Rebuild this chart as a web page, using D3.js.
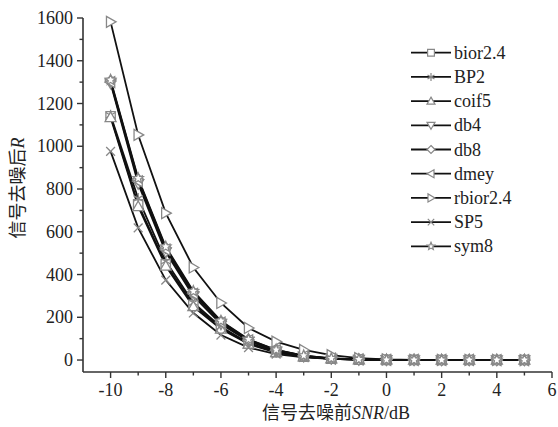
<!DOCTYPE html>
<html><head><meta charset="utf-8">
<script src="https://cdn.jsdelivr.net/npm/d3@7"></script>
<style>body{margin:0;background:#fff}</style>
</head><body>
<svg id="c" width="558" height="427"></svg>
<script>
const snr = [-10,-9,-8,-7,-6,-5,-4,-3,-2,-1,0,1,2,3,4,5];
const seriesNames = ["bior2.4","BP2","coif5","db4","db8","dmey","rbior2.4","SP5","sym8"];
const markerTypes = ["square","asterisk","up","down","diamond","left","right","cross","star"];
const bior24 = [1140,728,448,258,150,78,37,16,6,2,1,0.5,0.3,0.2,0.1,0.1];
const BP2    = [1145,756,462,268,155,80,38,16,6,2,1,0.5,0.3,0.2,0.1,0.1];
const coif5  = [1135,718,440,250,145,75,35,15,6,2,1,0.5,0.3,0.2,0.1,0.1];
const db4    = [1295,825,505,300,168,88,42,17,7,2,1,0.5,0.3,0.2,0.1,0.1];
const db8    = [1305,845,524,316,180,95,47,20,8,3,1,0.5,0.3,0.2,0.1,0.1];
const dmey   = [1300,836,516,310,175,92,45,19,7,3,1,0.5,0.3,0.2,0.1,0.1];
const rbior24= [1582,1053,687,433,267,150,86,47,23,9,3,1,0.5,0.3,0.2,0.1];
const SP5    = [976,618,374,220,117,58,28,12,5,2,1,0.5,0.3,0.2,0.1,0.1];
const sym8   = [1310,850,530,322,183,97,48,21,8,3,1,0.5,0.3,0.2,0.1,0.1];
const allValues = [bior24,BP2,coif5,db4,db8,dmey,rbior24,SP5,sym8];
const xTicks = [-10,-8,-6,-4,-2,0,2,4,6];
const yTicks = [0,200,400,600,800,1000,1200,1400,1600];

const svg = d3.select("#c");
const x = d3.scaleLinear().domain([-11,6]).range([83,552]);
const y = d3.scaleLinear().domain([-56,1600]).range([372,18]);
const serif = "Liberation Serif, Noto Sans CJK SC, serif";
const axisColor = "#333";

function markerPath(t, s){
  const r = s/2;
  const p = d3.path();
  const poly = pts => { p.moveTo(pts[0][0],pts[0][1]); pts.slice(1).forEach(q=>p.lineTo(q[0],q[1])); p.closePath(); };
  switch(t){
    case "square": p.rect(-r*0.85,-r*0.85,r*1.7,r*1.7); break;
    case "asterisk": for(let a=0;a<3;a++){const ang=Math.PI/2+a*Math.PI/3; p.moveTo(Math.cos(ang)*r,Math.sin(ang)*r); p.lineTo(-Math.cos(ang)*r,-Math.sin(ang)*r);} break;
    case "up": poly([[0,-r],[r,r*0.75],[-r,r*0.75]]); break;
    case "down": poly([[0,r],[r,-r*0.75],[-r,-r*0.75]]); break;
    case "left": poly([[-r,0],[r*0.75,-r],[r*0.75,r]]); break;
    case "right": poly([[r,0],[-r*0.75,-r],[-r*0.75,r]]); break;
    case "diamond": poly([[0,-r],[r,0],[0,r],[-r,0]]); break;
    case "cross": p.moveTo(-r*0.8,-r*0.8); p.lineTo(r*0.8,r*0.8); p.moveTo(r*0.8,-r*0.8); p.lineTo(-r*0.8,r*0.8); break;
    case "star": { const pts=[]; for(let i=0;i<10;i++){const ang=-Math.PI/2+i*Math.PI/5; const rr=i%2?r*0.45:r; pts.push([Math.cos(ang)*rr,Math.sin(ang)*rr]);} poly(pts); } break;
  }
  return p.toString();
}

// axes
const xAxis = d3.axisBottom(x).tickValues(d3.range(-10,7,1)).tickSize(0).tickFormat("");
const gx = svg.append("g").attr("transform","translate(0,372)").call(xAxis);
gx.select(".domain").attr("stroke",axisColor).attr("stroke-width",1.6).attr("d","M83,0H552");
gx.selectAll(".tick line").remove();
d3.range(-10,7,1).forEach(v=>{
  const major = xTicks.includes(v);
  gx.append("line").attr("x1",x(v)).attr("x2",x(v)).attr("y1",0).attr("y2",major?6:3.5).attr("stroke",axisColor).attr("stroke-width",1.4);
});
xTicks.forEach(v=>{
  gx.append("text").attr("x",x(v)).attr("y",24).attr("text-anchor","middle")
    .style("font-family",serif).attr("font-size",18).attr("fill","#222").text(v);
});

const gy = svg.append("g").attr("transform","translate(83,0)");
gy.append("path").attr("d",`M0,${y(1600)}V372`).attr("stroke",axisColor).attr("stroke-width",1.6);
d3.range(0,1601,100).forEach(v=>{
  const major = v%200===0;
  gy.append("line").attr("x1",0).attr("x2",major?-6:-3.5).attr("y1",y(v)).attr("y2",y(v)).attr("stroke",axisColor).attr("stroke-width",1.4);
});
yTicks.forEach(v=>{
  gy.append("text").attr("x",-10).attr("y",y(v)+6).attr("text-anchor","end")
    .style("font-family",serif).attr("font-size",18).attr("fill","#222").text(v);
});

// axis titles
const xt = svg.append("text").attr("x",336).attr("y",419).attr("text-anchor","middle")
  .style("font-family",serif).attr("font-size",18).attr("fill","#222");
xt.append("tspan").text("信号去噪前");
xt.append("tspan").attr("font-style","italic").text("SNR");
xt.append("tspan").text("/dB");

const yt = svg.append("text").attr("transform","translate(24,188) rotate(-90)").attr("text-anchor","middle")
  .style("font-family",serif).attr("font-size",18).attr("fill","#222");
yt.append("tspan").text("信号去噪后");
yt.append("tspan").attr("font-style","italic").text("R");

// lines
const line = d3.line().x((d,i)=>x(snr[i])).y(d=>y(d));
allValues.forEach(vals=>{
  svg.append("path").attr("d",line(vals)).attr("fill","none").attr("stroke","#111").attr("stroke-width",1.8);
});
// markers
allValues.forEach((vals,si)=>{
  vals.forEach((v,i)=>{
    svg.append("path").attr("d",markerPath(markerTypes[si],11))
      .attr("transform",`translate(${x(snr[i])},${y(v)})`)
      .attr("fill","#fff").attr("stroke","#888").attr("stroke-width",1.3);
  });
});

// legend
seriesNames.forEach((n,i)=>{
  const ly = 52.7 + i*24.2;
  svg.append("line").attr("x1",411).attr("x2",451).attr("y1",ly).attr("y2",ly).attr("stroke","#111").attr("stroke-width",1.8);
  svg.append("path").attr("d",markerPath(markerTypes[i],8)).attr("transform",`translate(431,${ly})`)
    .attr("fill","#fff").attr("stroke","#888").attr("stroke-width",1.2);
  svg.append("text").attr("x",454).attr("y",ly+6).style("font-family",serif).attr("font-size",18).attr("fill","#222").text(n);
});
</script>
</body></html>
